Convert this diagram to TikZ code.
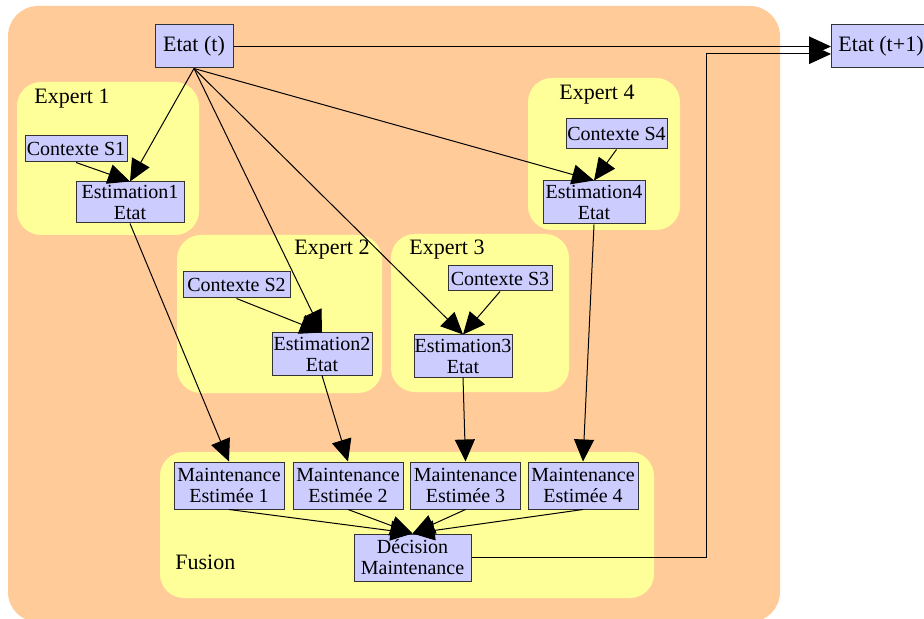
\documentclass[tikz,border=0pt]{standalone}
\usepackage{fontspec}
\setmainfont{Liberation Serif}
\usetikzlibrary{arrows.meta}
\definecolor{bgorange}{RGB}{255,204,153}
\definecolor{grpyellow}{RGB}{255,255,153}
\definecolor{boxblue}{RGB}{204,204,255}
\tikzset{box/.style={draw=black!80,fill=boxblue,line width=0.5pt,inner sep=0pt,align=center,font=\rmfamily\fontsize{10}{10.5}\selectfont},big label/.style={font=\rmfamily\fontsize{11}{12}\selectfont},group/.style={fill=grpyellow,rounded corners=12pt},group label/.style={big label,inner sep=0pt},edge/.style={-{Triangle[length=11pt,width=10pt]},line width=0.5pt}}

\begin{document}
\begin{tikzpicture}[x=0.5pt,y=-0.5pt]
	\useasboundingbox (0,0) rectangle (924,619);
	% clusters
	\fill[bgorange,rounded corners=15pt] (8,6) rectangle (780,622);
	\fill[group] (17,82) rectangle (199,235);
	\fill[group] (177,235) rectangle (382,393);
	\fill[group] (391,234) rectangle (569,392);
	\fill[group] (528,78) rectangle (680,230);
	\fill[group] (160,452) rectangle (654,598);
	\node[group label,anchor=west] (lexp1) at (34,99) {Expert 1};
	\node[group label] (lexp2) at (332,250) {Expert 2};
	\node[group label] (lexp3) at (447,250) {Expert 3};
	\node[group label] (lexp4) at (597,95) {Expert 4};
	\node[group label,anchor=west] (lfusion) at (175,562) {Fusion};
	% states
	\node[box,big label,minimum width=39pt,minimum height=21.5pt] (etat) at (194,46.5) {Etat (t)};
	\node[box,big label,minimum width=49.5pt,minimum height=21.5pt] (etatnext) at (881,46.5) {Etat (t+1)};
	% experts
	\node[box,minimum width=51pt,minimum height=13pt] (ctx1) at (76,149) {Contexte S1};
	\node[box,minimum width=54pt,minimum height=20.5pt] (est1) at (130,202.5) {Estimation1\\Etat};
	\node[box,minimum width=53.5pt,minimum height=13pt] (ctx2) at (236.5,285) {Contexte S2};
	\node[box,minimum width=50pt,minimum height=21pt] (est2) at (322,354) {Estimation2\\Etat};
	\node[box,minimum width=52pt,minimum height=12.5pt] (ctx3) at (500,278.5) {Contexte S3};
	\node[box,minimum width=49pt,minimum height=21pt] (est3) at (463,356) {Estimation3\\Etat};
	\node[box,minimum width=50.5pt,minimum height=15pt] (ctx4) at (616.5,134) {Contexte S4};
	\node[box,minimum width=51pt,minimum height=21.5pt] (est4) at (594,202.5) {Estimation4\\Etat};
	% fusion
	\foreach \i/\x in {1/229,2/348,3/465.5,4/583}
		\node[box,minimum width=55pt,minimum height=23.5pt] (maint\i) at (\x,485.5) {Maintenance\\Estimée \i};
	\node[box,minimum width=58.5pt,minimum height=23.5pt] (dec) at (412.5,557.5) {Décision\\Maintenance};
	\coordinate (turn) at (706,54);
	% edges
	\foreach \i in {1,...,4}{
		\draw[edge] (etat.south) -- (est\i.north);
		\draw[edge] (ctx\i.south) -- (est\i.north);
		\draw[edge] (est\i.south) -- (maint\i.north);
		\draw[edge] (maint\i.south) -- (dec.north);
	}
	\draw[edge] (etat.east) -- (etatnext.west |- etat.east);
	\draw[edge] (dec.east) -| (turn) -- (etatnext.west |- turn);
\end{tikzpicture}
\end{document}
